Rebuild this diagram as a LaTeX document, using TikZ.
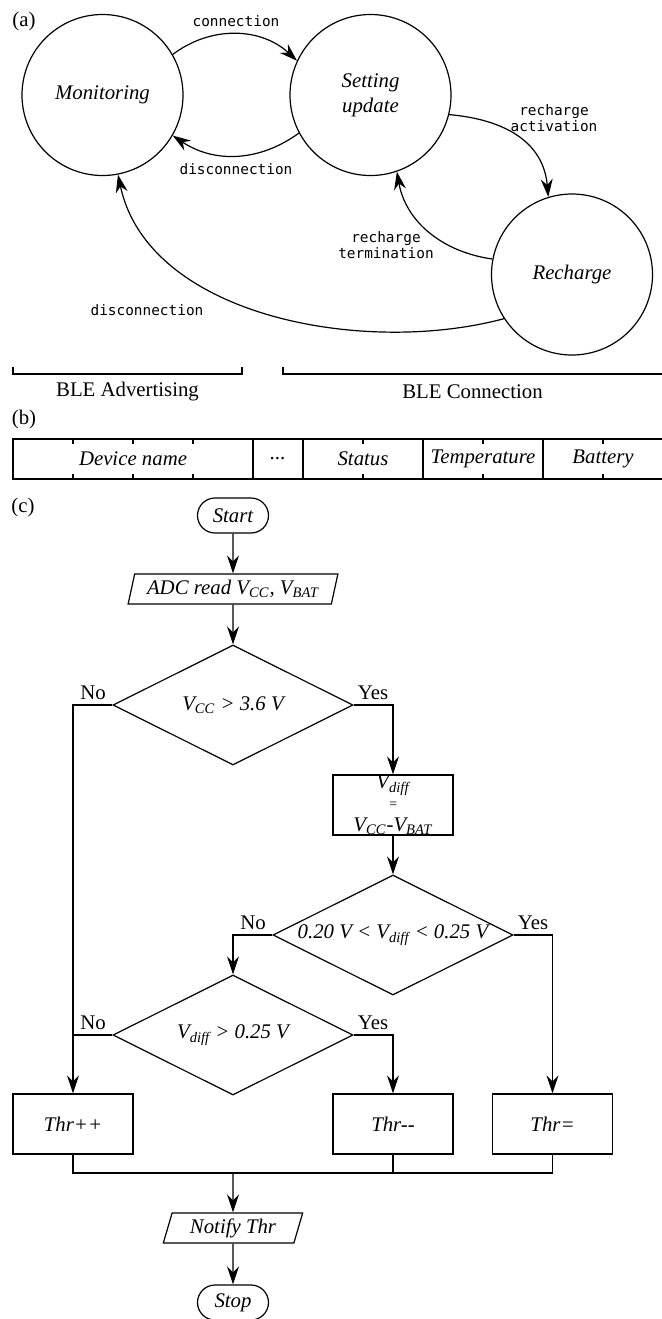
\documentclass[tikz,border=0pt]{standalone}
\usepackage{fontspec}
\setmainfont{Liberation Serif}
\setmonofont{DejaVu Sans Mono}
\usetikzlibrary{arrows.meta,positioning,shapes.geometric}

\newcommand\figfont{\fontsize{10.4}{12.5}\selectfont}
\newcommand\lblfont{\ttfamily\fontsize{7.2}{8}\selectfont}

\tikzset{
  statenode/.style={draw, circle, minimum size=80.5pt, inner sep=0pt, align=center, font=\figfont\itshape},
  trans/.style={align=center, font=\lblfont, inner sep=1pt},
  arr/.style={-{Stealth[length=9pt,width=6pt,inset=3pt]}},
  txt/.style={font=\figfont, inner sep=1pt},
  field/.style={draw, rectangle, minimum height=20pt, inner sep=0pt, outer sep=0pt, anchor=west, font=\figfont\itshape},
  term/.style={draw, rectangle, rounded corners=8.75pt, minimum width=35.5pt, minimum height=17.5pt, inner sep=0pt, font=\figfont\itshape},
  io/.style={draw, trapezium, trapezium left angle=72, trapezium right angle=108, trapezium stretches=true, minimum height=15pt, inner sep=0pt, font=\figfont\itshape},
  decision/.style={draw, diamond, aspect=2, minimum width=120pt, minimum height=60pt, inner sep=0pt, font=\figfont\itshape},
  process/.style={draw, rectangle, minimum width=60pt, minimum height=30pt, inner sep=0pt, align=center, font=\figfont\itshape},
}

\begin{document}
\begin{tikzpicture}[x=0.5pt, y=-0.5pt, line width=0.6pt]
  \useasboundingbox (0,0) rectangle (661,1319);

  % (a) states
  \node (lbla)  [txt] at (24,21) {(a)};
  \node (mon)   [statenode] at (102.5,95) {Monitoring};
  \node (set)   [statenode] at (370.5,95) {Setting\\update};
  \node (rech)  [statenode] at (572,274.5) {Recharge};

  \node (lconn)  [trans] at (236,21)  {connection};
  \node (ldisc)  [trans] at (236,169) {disconnection};
  \node (lact)   [trans] at (554,118) {recharge\\activation};
  \node (lterm)  [trans] at (386,245) {recharge\\termination};
  \node (ldisc2) [trans] at (147,310) {disconnection};

  \draw[arr] (mon.30)  to[bend left=40] (set.155);
  \draw[arr] (set.208) to[bend left=35] (mon.330);
  \draw[arr] (set.346) to[out=-5, in=95, looseness=1.1] (rech.107);
  \draw[arr] (rech.169) to[out=172, in=-80] (set.289);
  \draw[arr] (rech.213) to[out=195, in=-78, looseness=0.9] (mon.281);

  % BLE phases
  \draw (13,367) |- (242,374) -- (242,367);
  \draw (283,367) |- (668,374);
  \node (adv)  [txt] at (127.5,392) {BLE Advertising};
  \node (conn) [txt] at (472.5,392) {BLE Connection};

  % (b) packet
  \node (lblb)  [txt] at (24,419) {(b)};
  \node (fdev)  [field, minimum width=120pt] at (13,459) {Device name};
  \node (fdots) [field, minimum width=25pt, right=0pt of fdev] {...};
  \node (fstat) [field, minimum width=60pt, right=0pt of fdots] {Status};
  \node (ftemp) [field, minimum width=60pt, right=0pt of fstat] {Temperature};
  \node (fbatt) [field, minimum width=62pt, right=0pt of ftemp] {\hspace*{-2pt}Battery};
  \foreach \x in {73,133,193,363,483,603}
    \draw (\x,439) -- ++(0,5) (\x,479) -- ++(0,-5);

  % (c) threshold flow
  \node (lblc)   [txt] at (23,507) {(c)};
  \node (start)  [term] at (233,515.5) {Start};
  \node (adc)    [io, minimum width=105pt] at (233,589)
                 {ADC read V\textsubscript{CC}, V\textsubscript{BAT}};
  \node (d1)     [decision] at (233,705) {V\textsubscript{CC} > 3.6 V};
  \node (vdiff)  [process] at (393,805)
                 {V\textsubscript{diff}\\[-2.5pt]{\scriptsize =}\\[-1pt]V\textsubscript{CC}-V\textsubscript{BAT}};
  \node (d2)     [decision] at (393,935) {0.20 V < V\textsubscript{diff} < 0.25 V};
  \node (d3)     [decision] at (233,1035) {V\textsubscript{diff} > 0.25 V};
  \node (thrinc) [process] at (73,1124) {Thr++};
  \node (thrdec) [process] at (393,1124) {Thr-{}-};
  \node (threq)  [process] at (552.5,1124) {Thr=};
  \coordinate (join) at (233,1173);
  \node (notify) [io, minimum width=70pt] at (233,1228) {Notify Thr};
  \node (stop)   [term] at (233,1302.5) {Stop};

  \node (no1)  [txt] at (93,693)   {No};
  \node (yes1) [txt] at (373,693)  {Yes};
  \node (no2)  [txt] at (253,923)  {No};
  \node (yes2) [txt] at (533,923)  {Yes};
  \node (no3)  [txt] at (93,1023)  {No};
  \node (yes3) [txt] at (373,1023) {Yes};

  \draw[arr] (start) -- (adc);
  \draw[arr] (adc) -- (d1);
  \draw[arr] (d1.east) -| (vdiff.north);
  \draw[arr] (d1.west) -| (thrinc.north);
  \draw[arr] (vdiff) -- (d2);
  \draw[arr] (d2.west) -| (d3.north);
  \draw[arr] (d2.east) -| (threq.north);
  \draw (d3.west) -- (thrinc.north |- d3.west);
  \draw[arr] (d3.east) -| (thrdec.north);
  \draw (thrinc.south) |- (threq.south |- join) -- (threq.south);
  \draw (thrdec.south) -- (thrdec.south |- join);
  \draw[arr] (join) -- (notify);
  \draw[arr] (notify) -- (stop);
\end{tikzpicture}
\end{document}
